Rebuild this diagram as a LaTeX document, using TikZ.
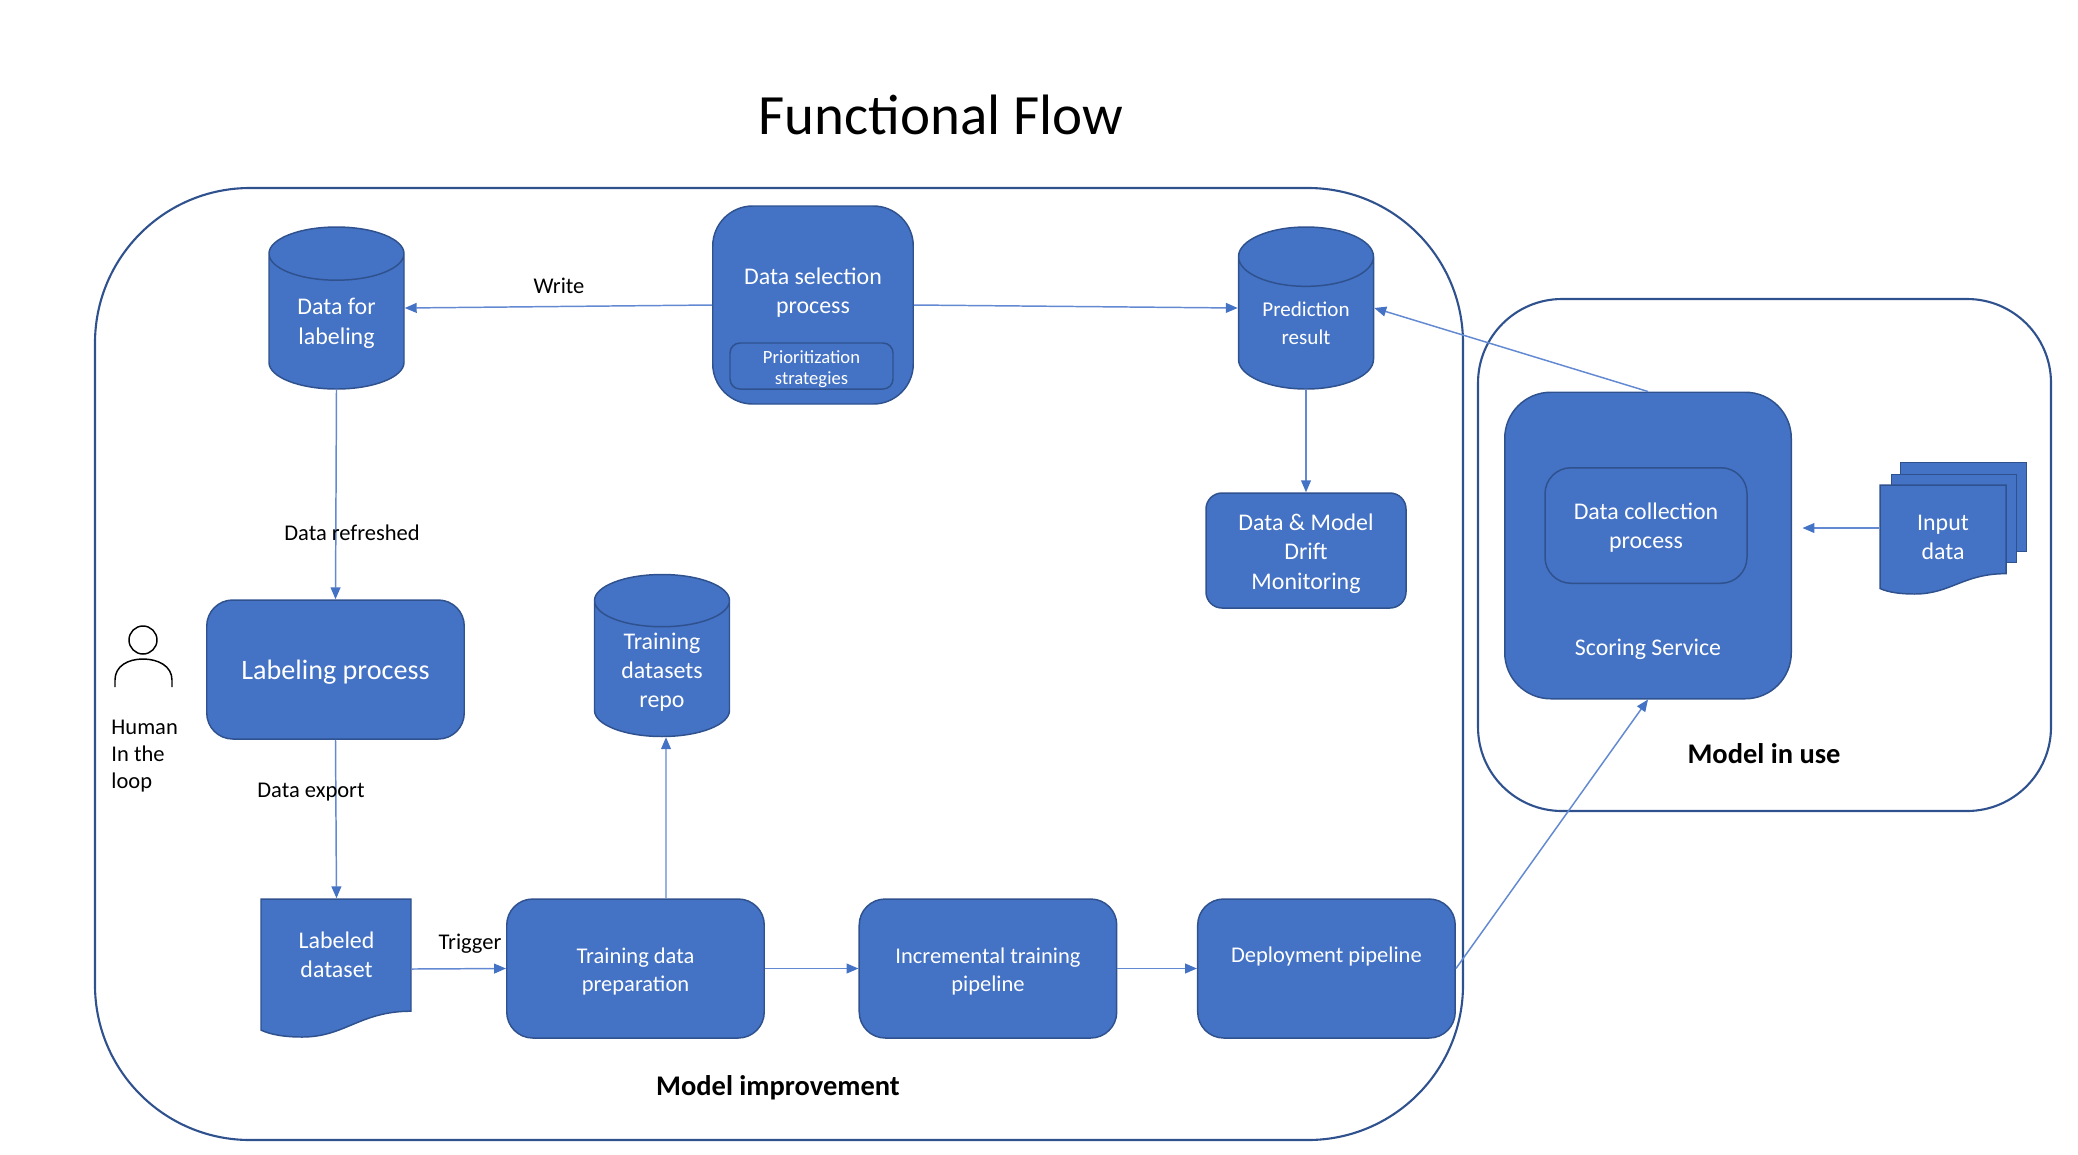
\documentclass[tikz,border=0pt]{standalone}
\usepackage{fontspec}
\setmainfont{Carlito}
\usepackage{xcolor}
\usetikzlibrary{arrows.meta,positioning,shapes.geometric}
\definecolor{flowfill}{HTML}{4472C4}
\definecolor{flowedge}{HTML}{2F528F}
\definecolor{flowline}{HTML}{6289D2}
\newcommand{\sized}[2]{\fontsize{#1}{#2}\selectfont}
\newcommand{\lift}[1]{\rule{0pt}{#1pt}}

\begin{document}
\begin{tikzpicture}[->,>={Triangle[length=3.4pt,width=2.8pt,color=flowfill]},y=-1cm,line width=0.42pt,draw=flowline,
			wavedoc/.pic={
				\path[fill=flowfill,draw=flowedge,-] (0,0) -- (1,0) -- (1,0.813)
					.. controls (0.66,0.813) and (0.56,1) .. (0.275,1)
					.. controls (0.16,1) and (0.07,0.985) .. (0,0.95) -- cycle;
			}]
				\tikzstyle{flowbox}=
				[rectangle,rounded corners=0.26cm,fill=flowfill,draw=flowedge,text=white,align=center,
				minimum width=2.575cm,minimum height=1.39cm,inner sep=0pt,font=\sized{6.4}{7.9}]
				\tikzstyle{flowdb}=
				[cylinder,shape border rotate=90,shape aspect=0.68,fill=flowfill,draw=flowedge,text=white,align=center,
				minimum width=1.35cm,minimum height=1.62cm,inner sep=0pt,anchor=shape center,font=\sized{6.8}{8.4}]
				\tikzstyle{docbox}=
				[rectangle,text=white,align=center,minimum width=1.5cm,minimum height=1.4cm,inner sep=0pt,font=\sized{6.8}{8.3}]
				\tikzstyle{sheet}=
				[rectangle,fill=flowfill,draw=flowedge,anchor=north west,inner sep=0pt]
				\tikzstyle{areabox}=
				[rectangle,draw=flowedge,line width=0.6pt,fill=none,inner sep=0pt]
				\tikzstyle{note}=
				[text=black,align=left,font=\sized{6.4}{7.7}]
				\tikzstyle{areatitle}=
				[text=black,font=\sized{8.1}{9.5}\bfseries]

				\useasboundingbox (0,0) rectangle (20.78,11.54);

				\node[text=black,font=\sized{16.2}{19}] (Title) at (9.41,1.15) {Functional Flow};

				% the two areas
				\node[areabox,rounded corners=1.55cm,minimum width=13.68cm,minimum height=9.52cm] (Improve) at (7.79,6.64) {};
				\node[areabox,rounded corners=0.84cm,minimum width=5.73cm,minimum height=5.12cm] (InUse) at (17.645,5.55) {};
				\node[areatitle] (ImproveTitle) at (7.78,10.88) {Model improvement};
				\node[areatitle] (InUseTitle) at (17.64,7.54) {Model in use};

				% top row
				\node[flowdb] (DataLabeling) at (3.365,3.08) {\lift{5.7}Data for\\labeling};
				\node[flowbox,rounded corners=0.4cm,minimum width=2.005cm,minimum height=1.98cm,font=\sized{6.8}{8.3}] (DataSelect) at (8.13,3.05) {Data selection\\process\\~};
				\node[flowbox,rounded corners=0.1cm,minimum width=1.63cm,minimum height=0.46cm,font=\sized{5.3}{6.1}] (Strategies) at (8.115,3.66) {\lift{5.4}Prioritization\\strategies};
				\node[flowdb,font=\sized{6}{7.8}] (Prediction) at (13.06,3.08) {Prediction\\result};
				\node[flowbox,rounded corners=0.16cm,minimum width=2cm,minimum height=1.15cm,font=\sized{6.8}{8.3}] (DriftMon) at (13.06,5.505) {\lift{6.5}Data \& Model\\Drift\\Monitoring};

				% middle
				\node[flowbox,font=\sized{8}{9.5}] (Labeling) at (3.355,6.695) {\lift{7.3}Labeling process};
				\node[flowdb] (Repo) at (6.62,6.555) {\phantom{Training}};
				\node[docbox,minimum height=1cm] (RepoText) at (6.62,6.72) {Training\\datasets\\repo};

				% human
				\node[circle,draw=black,fill=none,minimum size=0.28cm,inner sep=0pt] (Head) at (1.43,6.40) {};
				\draw[-,black] (1.15,6.87) -- (1.15,6.80) .. controls (1.15,6.66) and (1.28,6.59) .. (1.43,6.59)
					.. controls (1.58,6.59) and (1.72,6.66) .. (1.72,6.80) -- (1.72,6.87);
				\node[note,anchor=west] (Human) at (0.99,7.56) {Human\\In the\\loop};

				% bottom row
				\pic[xscale=1.5,yscale=1.38] at (2.61,8.99) {wavedoc};
				\node[docbox] (Labeled) at (3.365,9.69) {Labeled\\dataset\\~};
				\node[flowbox] (TrainPrep) at (6.355,9.685) {\lift{6.3}Training data\\preparation};
				\node[flowbox] (Incremental) [right=0.935cm of TrainPrep] {\lift{6.3}Incremental training\\pipeline};
				\node[flowbox] (Deploy) [right=0.795cm of Incremental] {Deployment pipeline\\~};

				% scoring
				\node[flowbox,rounded corners=0.46cm,minimum width=2.865cm,minimum height=3.065cm] (Scoring) at (16.48,5.455) {};
				\node[flowbox,minimum width=2.02cm,minimum height=1.155cm,font=\sized{6.8}{8.3}] (Collection) at (16.46,5.255) {\lift{5.9}Data collection\\process};
				\node[text=white,font=\sized{6.8}{8.3},inner sep=0pt] (ScoringText) at (16.48,6.495) {Scoring Service};

				% input data, three sheets
				\node[sheet,minimum width=1.255cm,minimum height=0.89cm] (SheetBack) at (19.00,4.62) {};
				\node[sheet,minimum width=1.25cm,minimum height=0.885cm] (SheetMid) at (18.905,4.735) {};
				\pic[xscale=1.26,yscale=1.09] at (18.80,4.85) {wavedoc};
				\node[docbox,minimum width=1.26cm,minimum height=1cm] (InputData) at (19.43,5.37) {Input\\data};

				\path 	(DataSelect.west) edge node {} (DataLabeling.east |- DataLabeling.shape center)
						(DataSelect.east) edge node {} (Prediction.west |- Prediction.shape center)
						(DataLabeling.south) edge node {} (Labeling.north)
						(Prediction.south) edge node {} (DriftMon.north)
						(Labeling.south) edge node {} (Labeled.north)
						(Labeled.east) edge node {} (TrainPrep.west)
						(TrainPrep.east) edge node {} (Incremental.west)
						(Incremental.east) edge node {} (Deploy.west)
						([xshift=0.305cm]TrainPrep.north) edge node {} ([xshift=0.04cm]Repo.south)
						(Deploy.east) edge node {} (Scoring.south)
						(Scoring.north) edge node {} (Prediction.east |- Prediction.shape center)
						([yshift=0.09cm]InputData.west) edge node {} ([xshift=0.105cm,yshift=0.175cm]Scoring.east);

				\node[note] (Write) at (5.59,2.86) {Write};
				\node[note] (Refreshed) at (3.52,5.33) {Data refreshed};
				\node[note] (Export) at (3.11,7.925) {Data export};
				\node[note] (Trigger) at (4.70,9.44) {Trigger};
			\end{tikzpicture}
\end{document}
